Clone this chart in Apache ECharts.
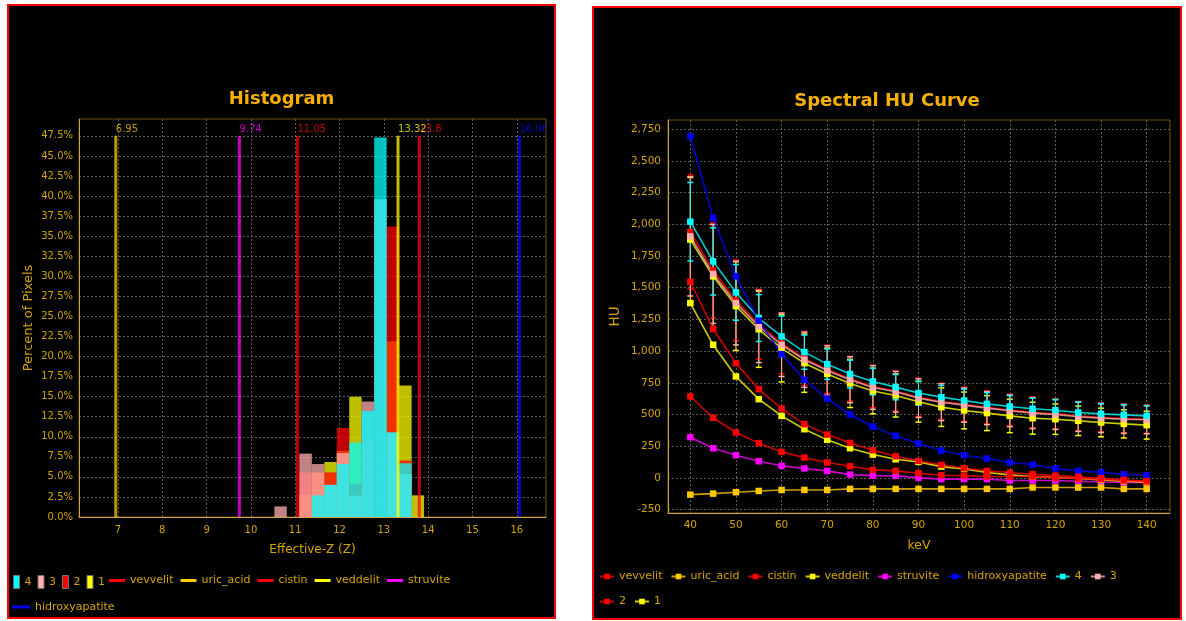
<!DOCTYPE html>
<html>
<head>
<meta charset="utf-8">
<script src="https://cdn.jsdelivr.net/npm/echarts/dist/echarts.min.js"></script>
<style>
  html, body { margin: 0; padding: 0; background: #ffffff; width: 1186px; height: 621px; overflow: hidden; }
  .panel { position: absolute; box-sizing: border-box; border: 2px solid #ff0000; background: #000000; }
  #histPanel { left: 7px; top: 4px; width: 549px; height: 615px; }
  #huPanel { left: 592px; top: 6px; width: 590px; height: 614px; }
  .chart { position: absolute; left: 0; top: 0; right: 0; bottom: 0; }
</style>
</head>
<body>
<div id="histPanel" class="panel"><div id="hist" class="chart"></div></div>
<div id="huPanel" class="panel"><div id="hu" class="chart"></div></div>
<script>
// ---------- Histogram: effective-Z distribution per region ----------
const binEdges = [10.53, 10.81, 11.093, 11.375, 11.656, 11.938, 12.219, 12.5, 12.782, 13.064, 13.345, 13.627, 13.908];
const hist4 = [0, 0, 0, 2.7, 4.0, 6.6, 9.3, 13.2, 47.3, 10.55, 6.7, 0];
const hist3 = [1.32, 0, 7.9, 6.6, 4.0, 7.98, 2.66, 14.4, 39.6, 10.5, 5.35, 0];
const hist2 = [0, 0, 5.56, 5.56, 5.56, 11.1, 4.15, 9.6, 0, 36.2, 7.05, 0];
const hist1 = [0, 0, 2.78, 5.5, 6.86, 8.27, 15.0, 0, 0, 21.9, 16.4, 2.7];

// Reference materials and their effective Z
const materials = ['vevvelit', 'uric_acid', 'cistin', 'veddelit', 'struvite', 'hidroxyapatite'];
const materialZ = [13.8, 6.95, 11.05, 13.32, 9.74, 16.06];
const markerTop = 47.5;

const zTicks = [7, 8, 9, 10, 11, 12, 13, 14, 15, 16];
const pctTicks = [0, 2.5, 5, 7.5, 10, 12.5, 15, 17.5, 20, 22.5, 25, 27.5, 30, 32.5, 35, 37.5, 40, 42.5, 45, 47.5];

// ---------- Spectral HU curves ----------
const keV = [40, 45, 50, 55, 60, 65, 70, 75, 80, 85, 90, 95, 100, 105, 110, 115, 120, 125, 130, 135, 140];
const huVevvelit = [1547, 1174, 905, 700, 547, 424, 342, 276, 218, 171, 134, 103, 76, 55, 42, 29, 18, 8, -3, -16, -26];
const huUricAcid = [-132, -124, -113, -103, -95, -95, -95, -87, -87, -87, -87, -87, -87, -87, -87, -76, -76, -76, -76, -87, -87];
const huCistin = [642, 474, 358, 274, 205, 160, 121, 92, 63, 55, 37, 21, 18, 11, 11, 11, 0, -5, -10, -21, -26];
const huVeddelit = [1379, 1050, 800, 621, 489, 384, 300, 234, 184, 147, 126, 89, 71, 42, 24, 11, 3, -5, -16, -26, -34];
const huStruvite = [321, 234, 179, 131, 95, 74, 55, 26, 18, 16, 0, -10, -10, -10, -21, -21, -21, -26, -32, -37, -37];
const huHidroxyapatite = [2695, 2050, 1589, 1240, 976, 774, 626, 500, 405, 332, 271, 216, 179, 153, 121, 105, 74, 55, 45, 29, 21];
const hu4 = [2021, 1708, 1463, 1261, 1116, 992, 897, 819, 760, 716, 669, 637, 610, 584, 563, 545, 534, 516, 505, 497, 489];
const hu3 = [1905, 1608, 1379, 1195, 1050, 932, 847, 774, 713, 679, 629, 597, 574, 550, 529, 511, 500, 482, 471, 463, 458];
const hu2 = [1940, 1637, 1400, 1212, 1062, 942, 856, 782, 721, 685, 636, 603, 580, 556, 535, 517, 506, 488, 477, 469, 464];
const hu1 = [1880, 1590, 1355, 1172, 1022, 905, 820, 745, 685, 650, 600, 558, 532, 511, 489, 471, 463, 450, 437, 426, 416];
const sd4 = [310, 265, 220, 185, 160, 135, 120, 110, 105, 100, 95, 92, 90, 88, 86, 85, 84, 83, 82, 82, 82];
const sd3 = [470, 390, 330, 285, 250, 218, 195, 181, 172, 160, 152, 145, 135, 130, 125, 122, 118, 115, 113, 112, 110];
const sd2 = [450, 375, 318, 275, 240, 212, 190, 176, 166, 158, 150, 143, 135, 130, 125, 122, 118, 116, 114, 113, 112];
const sd1 = [490, 410, 350, 300, 265, 230, 205, 190, 180, 170, 160, 152, 145, 138, 132, 126, 120, 116, 113, 111, 110];

const huTicks = [-250, 0, 250, 500, 750, 1000, 1250, 1500, 1750, 2000, 2250, 2500, 2750];
const keVTicks = [40, 50, 60, 70, 80, 90, 100, 110, 120, 130, 140];

// ---------- styling ----------
const FONT = 'DejaVu Sans';
const GOLD = '#D2A400';
const TITLE = '#F8B000';
const AXIS = '#C8A848';
const BORDER = '#705400';
const GRID = '#5c5c5c';
const FG_ALPHA = 0.75;

const colors = {
  'vevvelit': '#FF0000', 'uric_acid': '#FFC800', 'cistin': '#FF0000', 'veddelit': '#FFFF00',
  'struvite': '#FF00FF', 'hidroxyapatite': '#0000FF',
  '4': '#00FFFF', '3': '#FFAFAF', '2': '#FF0000', '1': '#FFFF00'
};

function valueAxis(opts) {
  return Object.assign({
    type: 'value',
    nameLocation: 'middle',
    nameMoveOverlap: false,
    nameTextStyle: { color: GOLD, fontFamily: FONT, fontSize: opts.nameSize },
    axisLine: { show: true, onZero: false, lineStyle: { color: AXIS, width: 1 } },
    axisTick: { show: false, customValues: opts.ticks },
    axisLabel: { customValues: opts.ticks, color: GOLD, fontFamily: FONT, fontSize: opts.fontSize, margin: opts.margin, formatter: opts.formatter },
    splitLine: { show: true, lineStyle: { color: GRID, type: [2, 2], width: 1 } }
  }, opts.extra);
}

// ---------- histogram chart ----------
const histValues = { '4': hist4, '3': hist3, '2': hist2, '1': hist1 };

function barSeries(name) {
  const color = colors[name];
  return {
    type: 'custom', name: name, clip: true,
    itemStyle: { color: color },
    data: histValues[name].map((v, i) => [binEdges[i], binEdges[i + 1], v]),
    encode: { x: [0, 1], y: 2 },
    renderItem: function (params, api) {
      const v = api.value(2);
      if (!(v > 0)) return null;
      const a = api.coord([api.value(0), v]);
      const b = api.coord([api.value(1), 0]);
      return {
        type: 'rect',
        shape: { x: a[0], y: a[1], width: b[0] - a[0], height: b[1] - a[1] },
        style: { fill: color, opacity: FG_ALPHA }
      };
    }
  };
}

function materialLine(i) {
  const name = materials[i];
  const color = colors[name];
  return {
    type: 'custom', name: name, clip: true,
    itemStyle: { color: color },
    data: [[materialZ[i], markerTop]],
    encode: { x: 0, y: 1 },
    renderItem: function (params, api) {
      const z = api.value(0);
      const top = api.coord([z, api.value(1)]);
      const bot = api.coord([z, 0]);
      return {
        type: 'group',
        children: [
          { type: 'line', shape: { x1: top[0], y1: top[1], x2: bot[0], y2: bot[1] },
            style: { stroke: color, lineWidth: 3, opacity: FG_ALPHA } },
          { type: 'text', x: top[0], y: top[1] - 1,
            style: { text: String(z), fill: color, font: '10px "DejaVu Sans"', align: 'left', verticalAlign: 'bottom', opacity: FG_ALPHA } }
        ]
      };
    }
  };
}

const legendText = { color: GOLD, fontFamily: FONT, fontSize: 11 };
const histChart = echarts.init(document.getElementById('hist'), null, { renderer: 'canvas' });
histChart.setOption({
  animation: false,
  backgroundColor: '#000000',
  textStyle: { fontFamily: FONT },
  title: { text: 'Histogram', left: 'center', top: 84, padding: 0,
    textStyle: { color: TITLE, fontFamily: FONT, fontWeight: 'bold', fontSize: 18 } },
  grid: { left: 70, top: 113, width: 467, height: 398, show: true, borderColor: BORDER, borderWidth: 1, backgroundColor: '#000000' },
  xAxis: valueAxis({ ticks: zTicks, fontSize: 10, margin: 8, nameSize: 12, formatter: v => String(v),
    extra: { min: 6.12, max: 16.66, name: 'Effective-Z (Z)', nameGap: 27 } }),
  yAxis: valueAxis({ ticks: pctTicks, fontSize: 10, margin: 6, nameSize: 13, formatter: v => v.toFixed(1) + '%',
    extra: { min: 0, max: 49.6, name: 'Percent of Pixels', nameGap: 44 } }),
  legend: [
    { left: 4, top: 569, padding: 0, icon: 'rect', itemWidth: 6, itemHeight: 13, itemGap: 6, textStyle: legendText,
      data: ['4', '3', '2', '1'].map(n => ({ name: n, itemStyle: { color: colors[n], borderColor: '#707070', borderWidth: 1 } })) },
    { left: 100, top: 569, padding: 0, icon: 'rect', itemWidth: 16, itemHeight: 3, itemGap: 7, textStyle: legendText,
      data: materials.slice(0, 5).map(n => ({ name: n, itemStyle: { color: colors[n] } })) },
    { left: 3, top: 595.5, padding: 0, icon: 'rect', itemWidth: 18, itemHeight: 3, itemGap: 7, textStyle: legendText,
      data: [{ name: 'hidroxyapatite', itemStyle: { color: colors['hidroxyapatite'] } }] }
  ],
  series: [barSeries('1'), barSeries('2'), barSeries('3'), barSeries('4')]
    .concat(materials.map((m, i) => materialLine(i)))
});

// ---------- spectral HU chart ----------
function errorSeries(name, means, sds) {
  const color = colors[name];
  return {
    type: 'custom', clip: true, z: 1,
    data: keV.map((k, i) => [k, means[i], sds[i]]),
    encode: { x: 0, y: 1 },
    renderItem: function (params, api) {
      const x = api.value(0), m = api.value(1), e = api.value(2);
      const top = api.coord([x, m + e]);
      const bot = api.coord([x, m - e]);
      const cap = 3;
      return {
        type: 'group',
        children: [
          { type: 'line', shape: { x1: top[0], y1: top[1], x2: bot[0], y2: bot[1] }, style: { stroke: color, lineWidth: 1 } },
          { type: 'line', shape: { x1: top[0] - cap, y1: top[1], x2: top[0] + cap, y2: top[1] }, style: { stroke: color, lineWidth: 1.5 } },
          { type: 'line', shape: { x1: bot[0] - cap, y1: bot[1], x2: bot[0] + cap, y2: bot[1] }, style: { stroke: color, lineWidth: 1.5 } }
        ]
      };
    }
  };
}

function curveSeries(name, values) {
  const color = colors[name];
  return {
    type: 'line', name: name, z: 3,
    data: keV.map((k, i) => [k, values[i]]),
    symbol: 'rect', symbolSize: 6.5, showSymbol: true,
    lineStyle: { color: color, width: 1.6, opacity: 0.8 },
    itemStyle: { color: color },
    emphasis: { disabled: true }
  };
}

const huLegendNames1 = ['vevvelit', 'uric_acid', 'cistin', 'veddelit', 'struvite', 'hidroxyapatite', '4', '3'];
const huLegendNames2 = ['2', '1'];

const huChart = echarts.init(document.getElementById('hu'), null, { renderer: 'canvas' });
huChart.setOption({
  animation: false,
  backgroundColor: '#000000',
  textStyle: { fontFamily: FONT },
  title: { text: 'Spectral HU Curve', left: 'center', top: 84, padding: 0,
    textStyle: { color: TITLE, fontFamily: FONT, fontWeight: 'bold', fontSize: 18 } },
  grid: { left: 74, top: 112, width: 502, height: 393, show: true, borderColor: BORDER, borderWidth: 1, backgroundColor: '#000000' },
  xAxis: valueAxis({ ticks: keVTicks, fontSize: 10.5, margin: 7, nameSize: 12.5, formatter: v => String(v),
    extra: { min: 35.11, max: 145.11, name: 'keV', nameGap: 26 } }),
  yAxis: valueAxis({ ticks: huTicks, fontSize: 10.5, margin: 7, nameSize: 13.5, formatter: v => v.toLocaleString('en-US'),
    extra: { min: -277, max: 2823, name: 'HU', nameGap: 46 } }),
  legend: [
    { left: 5, top: 563, padding: 0, itemWidth: 14, itemHeight: 7, itemGap: 8, textStyle: legendText, data: huLegendNames1 },
    { left: 5, top: 588, padding: 0, itemWidth: 14, itemHeight: 7, itemGap: 8, textStyle: legendText, data: huLegendNames2 }
  ],
  series: [
    errorSeries('1', hu1, sd1), errorSeries('2', hu2, sd2), errorSeries('3', hu3, sd3), errorSeries('4', hu4, sd4),
    curveSeries('1', hu1), curveSeries('2', hu2), curveSeries('3', hu3), curveSeries('4', hu4),
    curveSeries('hidroxyapatite', huHidroxyapatite), curveSeries('struvite', huStruvite),
    curveSeries('veddelit', huVeddelit), curveSeries('cistin', huCistin),
    curveSeries('uric_acid', huUricAcid), curveSeries('vevvelit', huVevvelit)
  ]
});
</script>
</body>
</html>
